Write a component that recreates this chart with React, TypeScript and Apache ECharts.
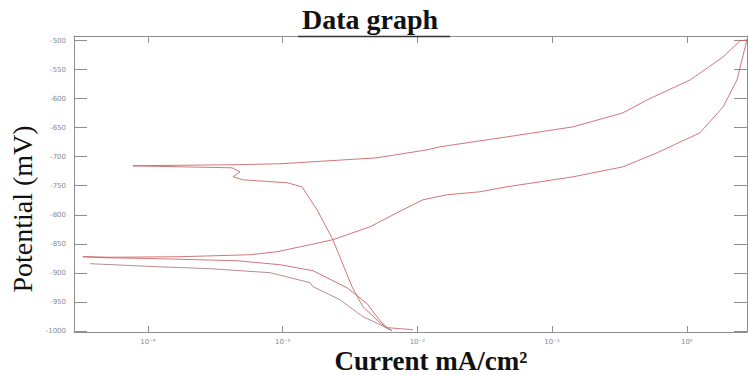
import { useEffect, useRef } from 'react';
import * as echarts from 'echarts';

// Tick values
const yTicks = [-1000, -950, -900, -850, -800, -750, -700, -650, -600, -550, -500];
const xTickExps = [-4, -3, -2, -1, 0];
const xTickLabels = ['10⁻⁴', '10⁻³', '10⁻²', '10⁻¹', '10⁰'];

// Main cyclic scan: current (mA/cm²) and potential (mV), in sweep order
const scanCurrent = [
  9.27e-3, 5.94e-3, 5.27e-3, 4.23e-3, 3.0e-3, 1.68e-3, 9.55e-4, 4.58e-4, 1.23e-4, 4.8e-5, 3.29e-5,
  5.23e-5, 1.73e-4, 5.71e-4, 9.07e-4, 1.6e-3, 2.36e-3, 4.45e-3, 7.06e-3, 1.1e-2, 1.66e-2, 2.92e-2,
  4.63e-2, 0.143, 0.336, 0.601, 1.25, 1.86, 2.36, 2.71, 2.8,
  2.48, 1.86, 1.06, 0.507, 0.336, 0.143, 0.0463, 0.0147, 0.0118, 5.01e-3, 9.55e-4, 4.06e-4, 7.74e-5,
  1.73e-4, 4.21e-4, 4.82e-4, 4.28e-4, 5.07e-4, 1.08e-3, 1.39e-3, 1.8e-3, 2.36e-3, 3.27e-3, 3.94e-3,
  5.27e-3, 5.94e-3, 6.47e-3,
];
const scanPotential = [
  -998, -994.5, -982.5, -953, -925.7, -896.4, -886.1, -879.2, -875.8, -874, -872.3,
  -873.2, -872.3, -868.9, -863.7, -851.6, -843, -820.7, -796.6, -774.2, -765.6, -760.4,
  -751.8, -734.6, -717.4, -693.3, -658.9, -614.1, -567.6, -510.8, -498.5,
  -500.5, -528.1, -567.6, -602.1, -624.4, -648.5, -665.8, -682.9, -688.1, -701.9, -712.2, -713.9, -715.6,
  -717.4, -719.1, -726, -734.6, -739.8, -744.9, -751.8, -791.4, -843, -923.9, -958.3,
  -985.9, -994.5, -999.7,
];

// Second cathodic branch
const scan2Current = [6.47e-3, 5.27e-3, 3.94e-3, 2.66e-3, 1.68e-3, 1.6e-3, 8.05e-4, 2.88e-4, 1.17e-4, 3.71e-5];
const scan2Potential = [-999.7, -989.3, -975.6, -946.3, -923.9, -917, -899.8, -892.9, -889.5, -884.3];

const toPoints = (cur: number[], pot: number[]) => cur.map((c, i) => [Math.log10(c), pot[i]]);

export default function App() {
  const ref = useRef<HTMLDivElement>(null);
  useEffect(() => {
    if (!ref.current) return;
    const chart = echarts.init(ref.current, undefined, { renderer: 'svg' });
    const axisColor = '#8e8e8e';
    const xMin = -4.549;
    const xMax = 0.447;
    const yMin = -1002;
    const yMax = -492;
    const labelStyle = { fontSize: 7, color: '#8a8a8a', fontFamily: 'DejaVu Sans' };
    const lineBase = { show: true, onZero: false, lineStyle: { color: axisColor, width: 1 } };
    chart.setOption({
      animation: false,
      backgroundColor: '#ffffff',
      grid: { left: 74, right: 1, top: 36, bottom: 43, containLabel: false },
      xAxis: [
        {
          type: 'value', min: xMin, max: xMax, position: 'bottom',
          axisLine: lineBase,
          axisTick: { show: true, inside: true, length: 6, customValues: xTickExps, lineStyle: { color: axisColor } },
          axisLabel: {
            show: true, customValues: xTickExps, margin: 6, ...labelStyle,
            formatter: (v: number) => xTickLabels[xTickExps.indexOf(Math.round(v))] ?? '',
          },
          splitLine: { show: false },
        },
        {
          type: 'value', min: xMin, max: xMax, position: 'top',
          axisLine: lineBase,
          axisTick: { show: true, inside: true, length: 7, customValues: xTickExps, lineStyle: { color: axisColor } },
          axisLabel: { show: false },
          splitLine: { show: false },
        },
      ],
      yAxis: [
        {
          type: 'value', min: yMin, max: yMax, position: 'left',
          axisLine: lineBase,
          axisTick: { show: true, inside: true, length: 13, customValues: yTicks, lineStyle: { color: axisColor } },
          axisLabel: {
            show: true, customValues: yTicks, margin: 8, ...labelStyle,
            formatter: (v: number) => String(Math.round(v)),
          },
          splitLine: { show: false },
        },
        {
          type: 'value', min: yMin, max: yMax, position: 'right',
          axisLine: lineBase,
          axisTick: { show: true, inside: true, length: 13, customValues: yTicks, lineStyle: { color: axisColor } },
          axisLabel: { show: false },
          splitLine: { show: false },
        },
      ],
      series: [
        {
          type: 'line', xAxisIndex: 0, yAxisIndex: 0, showSymbol: false, symbol: 'none',
          data: toPoints(scanCurrent, scanPotential),
          lineStyle: { color: '#c85456', width: 0.8 },
        },
        {
          type: 'line', xAxisIndex: 0, yAxisIndex: 0, showSymbol: false, symbol: 'none',
          data: toPoints(scan2Current, scan2Potential),
          lineStyle: { color: '#a87070', width: 0.8 },
        },
      ],
      graphic: [
        {
          type: 'text', x: 370, y: 33,
          style: {
            text: 'Data graph', fill: '#111', font: 'bold 28px "Liberation Serif", serif',
            textAlign: 'center', textVerticalAlign: 'bottom',
          },
          z: 10,
        },
        {
          type: 'line', shape: { x1: 298, y1: 36.5, x2: 450, y2: 36.5 },
          style: { stroke: '#333', lineWidth: 1.5 }, z: 10,
        },
        {
          type: 'text', x: 22, y: 209, rotation: Math.PI / 2,
          style: {
            text: 'Potential (mV)', fill: '#111', font: '28px "Liberation Serif", serif',
            textAlign: 'center', textVerticalAlign: 'middle',
          },
        },
        {
          type: 'text', x: 431, y: 361,
          style: {
            text: 'Current mA/cm²', fill: '#111', font: 'bold 27px "Liberation Serif", serif',
            textAlign: 'center', textVerticalAlign: 'middle',
          },
        },
      ],
    });
    return () => chart.dispose();
  }, []);
  return <div ref={ref} style={{ position: 'absolute', left: 0, top: 0, width: 748, height: 375 }} />;
}
